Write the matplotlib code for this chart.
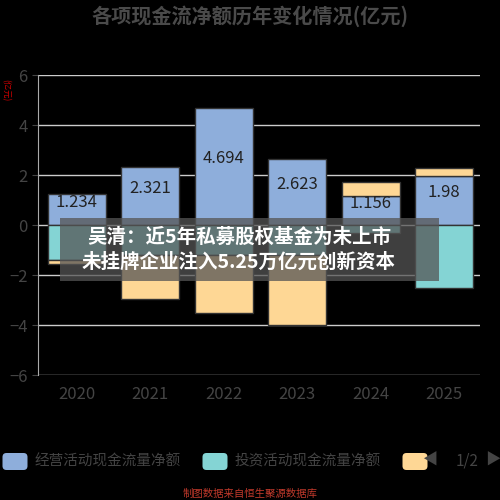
import numpy as np
import matplotlib.pyplot as plt
from matplotlib.patches import Rectangle, FancyBboxPatch

plt.rcParams['font.family'] = ['Noto Sans CJK SC', 'DejaVu Sans']

years = ['2020', '2021', '2022', '2023', '2024', '2025']
operating = [1.234, 2.321, 4.694, 2.623, 1.156, 1.98]
investing = [-1.4, -1.2, -1.2, -1.2, -0.3, -2.5]
financing = [-0.15, -1.75, -2.3, -2.8, 0.57, 0.3]

c_op, c_inv, c_fin = '#8eaedb', '#84d4d4', '#fed795'
fig = plt.figure(figsize=(5, 5), dpi=100, facecolor='black')
ax = fig.add_axes([0.076, 0.25, 0.884, 0.60], facecolor='black')
x = np.arange(len(years))
w = 0.79
op = np.array(operating); inv = np.array(investing); fin = np.array(financing)
ax.bar(x, op, w, color=c_op, edgecolor='#333333', lw=1, zorder=3)
ax.bar(x, inv, w, color=c_inv, edgecolor='#333333', lw=1, zorder=3)
fin_bottom = np.where(fin >= 0, op, inv)
ax.bar(x, fin, w, bottom=fin_bottom, color=c_fin, edgecolor='#333333', lw=1, zorder=3)
for i, v in enumerate(operating):
    ax.text(x[i], v / 2 + 0.3, f'{v:g}', ha='center', va='center', fontsize=12, color='#222222', zorder=4)

ax.set_ylim(-6, 6)
ax.set_xlim(-0.53, 5.49)
ax.set_yticks(range(-6, 7, 2))
ax.set_xticks(x, years)
ax.grid(axis='y', color='#cccccc', lw=1, zorder=0)
ax.tick_params(colors='#444444', labelsize=12, length=4)
ax.tick_params(axis='x', length=0, pad=8)
for s in ['top', 'right', 'bottom']:
    ax.spines[s].set_visible(False)
ax.spines['left'].set_color('#aaaaaa')

fig.text(0.5, 0.968, '各项现金流净额历年变化情况(亿元)', ha='center', va='center', fontsize=14.5, color='#4a4a4a', fontweight='bold')
fig.text(0.012, 0.82, '(亿元)', rotation=270, ha='center', va='center', fontsize=6, color='#cc0000')

# overlay headline box
fig.patches.append(Rectangle((0.12, 0.438), 0.758, 0.126, transform=fig.transFigure,
                             facecolor='#555555', alpha=0.75, zorder=10))
fig.text(0.478, 0.501, '吴清：近5年私募股权基金为未上市\n未挂牌企业注入5.25万亿元创新资本', ha='center', va='center',
         fontsize=14, color='white', fontweight='bold', linespacing=1.35, zorder=11)

# legend
legend_items = [(0.005, c_op, '经营活动现金流量净额'), (0.405, c_inv, '投资活动现金流量净额'), (0.805, c_fin, '')]
for lx, col, lab in legend_items:
    fig.patches.append(FancyBboxPatch((lx, 0.06), 0.05, 0.034, boxstyle='round,pad=0,rounding_size=0.008',
                                      transform=fig.transFigure, facecolor=col, edgecolor='none'))
    if lab:
        fig.text(lx + 0.065, 0.077, lab, ha='left', va='center', fontsize=10.5, color='#444444')
fig.text(0.86, 0.079, '◀', ha='center', va='center', fontsize=11, color='#444444')
fig.text(0.935, 0.079, '1/2', ha='center', va='center', fontsize=11, color='#444444')
fig.text(0.985, 0.079, '▶', ha='center', va='center', fontsize=11, color='#444444')
fig.text(0.5, 0.012, '制图数据来自恒生聚源数据库', ha='center', va='center', fontsize=7.5, color='#c0392b')

fig.savefig('out.png', dpi=100, facecolor='black')
